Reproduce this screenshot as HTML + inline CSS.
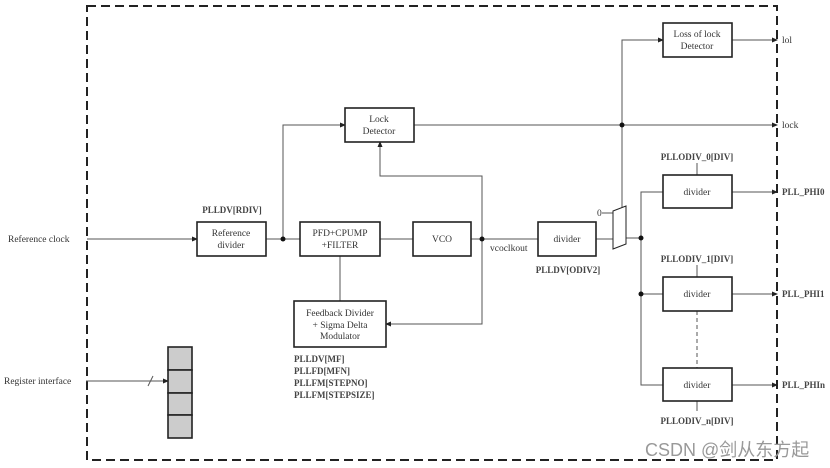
<!DOCTYPE html>
<html><head><meta charset="utf-8"><style>
html,body{margin:0;padding:0;background:#fff;width:830px;height:468px;overflow:hidden}
text{font-family:"Liberation Serif",serif;font-size:9.5px;fill:#333}
.b{font-weight:bold;fill:#444;font-size:9px}
</style></head><body>
<svg width="830" height="468" viewBox="0 0 830 468" xmlns="http://www.w3.org/2000/svg">
<defs><marker id="a" markerWidth="6" markerHeight="6" refX="5" refY="3" orient="auto" markerUnits="userSpaceOnUse"><path d="M0,0.5 L6,3 L0,5.5z" fill="#222"/></marker></defs>
<rect x="87" y="6" width="690" height="454" fill="none" stroke="#222" stroke-width="2" stroke-dasharray="9,5"/>
<g stroke="#555" stroke-width="1" fill="none">
<line x1="87" y1="239" x2="197" y2="239" marker-end="url(#a)"/>
<line x1="266" y1="239" x2="300" y2="239"/>
<polyline points="283,239 283,125 345,125" marker-end="url(#a)"/>
<line x1="380" y1="239" x2="413" y2="239"/>
<line x1="471" y1="239" x2="538" y2="239"/>
<line x1="340" y1="256" x2="340" y2="301"/>
<polyline points="482,239 482,324 386,324" marker-end="url(#a)"/>
<polyline points="482,239 482,176 380,176 380,142" marker-end="url(#a)"/>
<line x1="414" y1="125" x2="777" y2="125" marker-end="url(#a)"/>
<polyline points="622,125 622,40 663,40" marker-end="url(#a)"/>
<line x1="622" y1="125" x2="622" y2="216" marker-end="url(#a)"/>
<line x1="732" y1="40" x2="777" y2="40" marker-end="url(#a)"/>
<line x1="596" y1="239" x2="613" y2="239"/>
<line x1="602" y1="213" x2="613" y2="213"/>
<line x1="626" y1="238" x2="641" y2="238"/>
<polyline points="663,192 641,192 641,385 663,385"/>
<line x1="641" y1="294" x2="663" y2="294"/>
<line x1="732" y1="192" x2="777" y2="192" marker-end="url(#a)"/>
<line x1="732" y1="294" x2="777" y2="294" marker-end="url(#a)"/>
<line x1="732" y1="385" x2="777" y2="385" marker-end="url(#a)"/>
<line x1="697" y1="163" x2="697" y2="175"/>
<line x1="697" y1="265" x2="697" y2="277"/>
<line x1="697" y1="401" x2="697" y2="411"/>
<line x1="697" y1="311" x2="697" y2="368" stroke-dasharray="4,3"/>
<line x1="86" y1="381" x2="168" y2="381" marker-end="url(#a)"/>
<line x1="148" y1="386" x2="153" y2="376"/>
</g>
<g fill="#111"><circle cx="283" cy="239" r="2.5"/><circle cx="482" cy="239" r="2.5"/><circle cx="622" cy="125" r="2.5"/><circle cx="641" cy="238" r="2.5"/><circle cx="641" cy="294" r="2.5"/></g>
<g stroke="#222" stroke-width="1.6" fill="#fff">
<rect x="197" y="222" width="69" height="34"/>
<rect x="300" y="222" width="80" height="34"/>
<rect x="413" y="222" width="58" height="34"/>
<rect x="538" y="222" width="58" height="34"/>
<rect x="345" y="108" width="69" height="34"/>
<rect x="294" y="301" width="92" height="46"/>
<rect x="663" y="23" width="69" height="34"/>
<rect x="663" y="175" width="69" height="33"/>
<rect x="663" y="277" width="69" height="34"/>
<rect x="663" y="368" width="69" height="33"/>
<polygon points="613,211 626,206 626,244 613,249" stroke-width="1"/>
</g>
<g stroke="#222" stroke-width="1.6" fill="#ccc">
<rect x="168" y="347" width="24" height="23"/><rect x="168" y="370" width="24" height="23"/><rect x="168" y="393" width="24" height="22"/><rect x="168" y="415" width="24" height="23"/>
</g>
<g text-anchor="middle">
<text x="231" y="236">Reference</text><text x="231" y="248">divider</text>
<text x="340" y="236">PFD+CPUMP</text><text x="340" y="248">+FILTER</text>
<text x="442" y="242">VCO</text>
<text x="567" y="242">divider</text>
<text x="379" y="122">Lock</text><text x="379" y="134">Detector</text>
<text x="340" y="316">Feedback Divider</text><text x="340" y="328">+ Sigma Delta</text><text x="340" y="339">Modulator</text>
<text x="697" y="37">Loss of lock</text><text x="697" y="49">Detector</text>
<text x="697" y="195">divider</text><text x="697" y="297">divider</text><text x="697" y="388">divider</text>
<text class="b" x="697" y="160">PLLODIV_0[DIV]</text>
<text class="b" x="697" y="262">PLLODIV_1[DIV]</text>
<text class="b" x="697" y="424">PLLODIV_n[DIV]</text>
<text class="b" x="232" y="213">PLLDV[RDIV]</text>
<text class="b" x="568" y="273">PLLDV[ODIV2]</text>
</g>
<text x="8" y="242">Reference clock</text>
<text x="4" y="384">Register interface</text>
<text x="490" y="251">vcoclkout</text>
<text x="597" y="216">0</text>
<text class="b" x="294" y="362">PLLDV[MF]</text><text class="b" x="294" y="374">PLLFD[MFN]</text><text class="b" x="294" y="386">PLLFM[STEPNO]</text><text class="b" x="294" y="398">PLLFM[STEPSIZE]</text>
<text x="782" y="43">lol</text><text x="782" y="128">lock</text>
<text class="b" x="782" y="195">PLL_PHI0</text><text class="b" x="782" y="297">PLL_PHI1</text><text class="b" x="782" y="388">PLL_PHIn</text>
<text x="645" y="456" style='font-family:"Liberation Sans","Noto Sans CJK SC",sans-serif;font-size:18px;fill:#999'>CSDN @剑从东方起</text>
</svg>
</body></html>
